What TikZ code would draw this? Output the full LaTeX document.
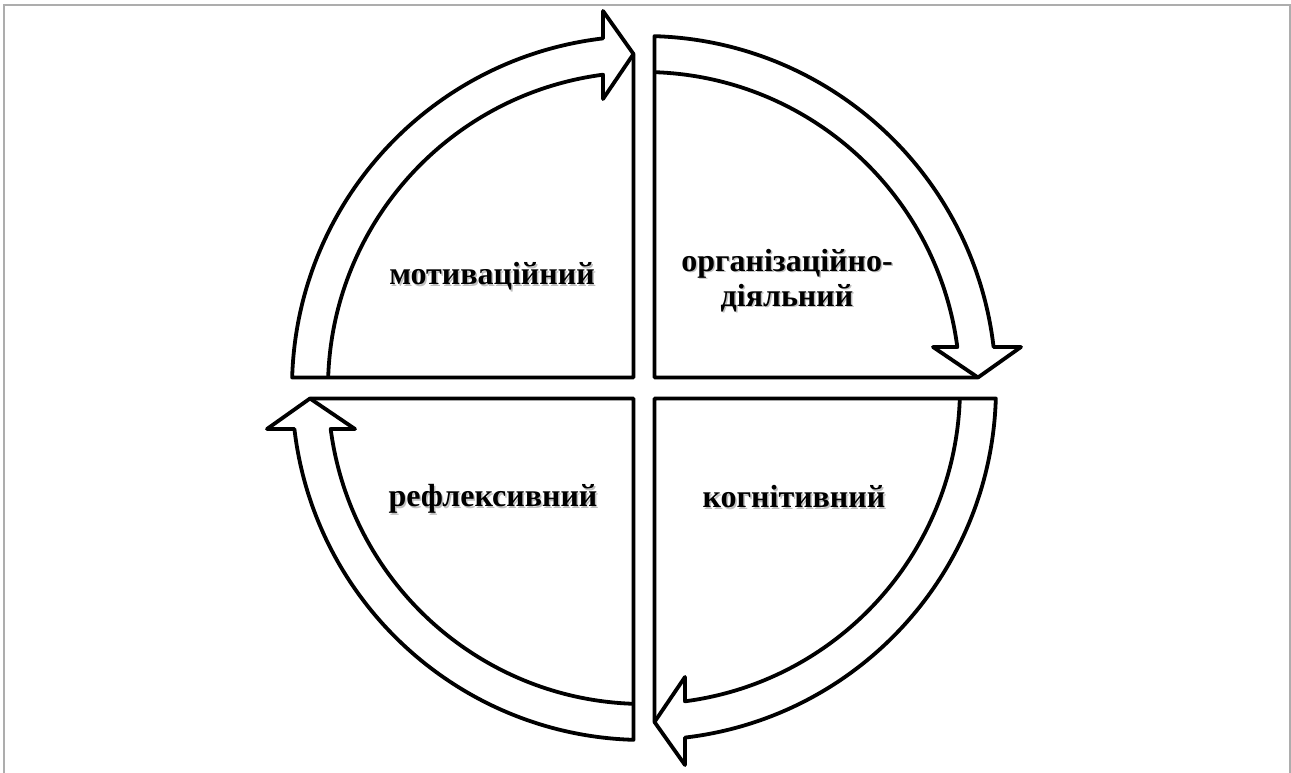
\documentclass[tikz,border=0pt]{standalone}
\usepackage{fontspec}
\setmainfont{Liberation Serif}
\newcommand{\shtxt}[1]{\makebox[0pt][l]{\hspace{1.5pt}\raisebox{-1.5pt}{\textcolor{black!25}{#1}}}#1}
\begin{document}
\begin{tikzpicture}[x=1pt,y=1pt,
  quad/.style={line width=3.8pt,line join=round},
  lbl/.style={font=\fontsize{32}{35}\selectfont\bfseries,inner sep=0pt}]
\useasboundingbox (-644,-385) rectangle (647,388);
\draw[line width=2pt,black!32] (-640,-385) -- (-640,383) -- (645.5,383) -- (645.5,-385);

% four quarters, each one turned a quarter further
\foreach \ang in {0,-90,-180,-270}{
\begin{scope}[rotate=\ang]
\draw[quad] (-10.5,10.5) -- (178.29:352) arc[start angle=178.29,end angle=96.69,radius=352]
  -- (-41,377) -- (-10.5,334) -- cycle;
\draw[quad] (178.10:316) arc[start angle=178.10,end angle=97.45,radius=316]
  -- (-41,289) -- (-10.5,334);
\end{scope}}

\node[lbl,anchor=base] (motiv) at (-152,103) {\shtxt{мотиваційний}};
\node[lbl,align=center] (org) at (143,107) {\shtxt{організаційно-}\\\shtxt{діяльний}};
\node[lbl,anchor=base] (kogn) at (150,-120) {\shtxt{когнітивний}};
\node[lbl,anchor=base] (refl) at (-151,-119) {\shtxt{рефлексивний}};
\end{tikzpicture}
\end{document}
